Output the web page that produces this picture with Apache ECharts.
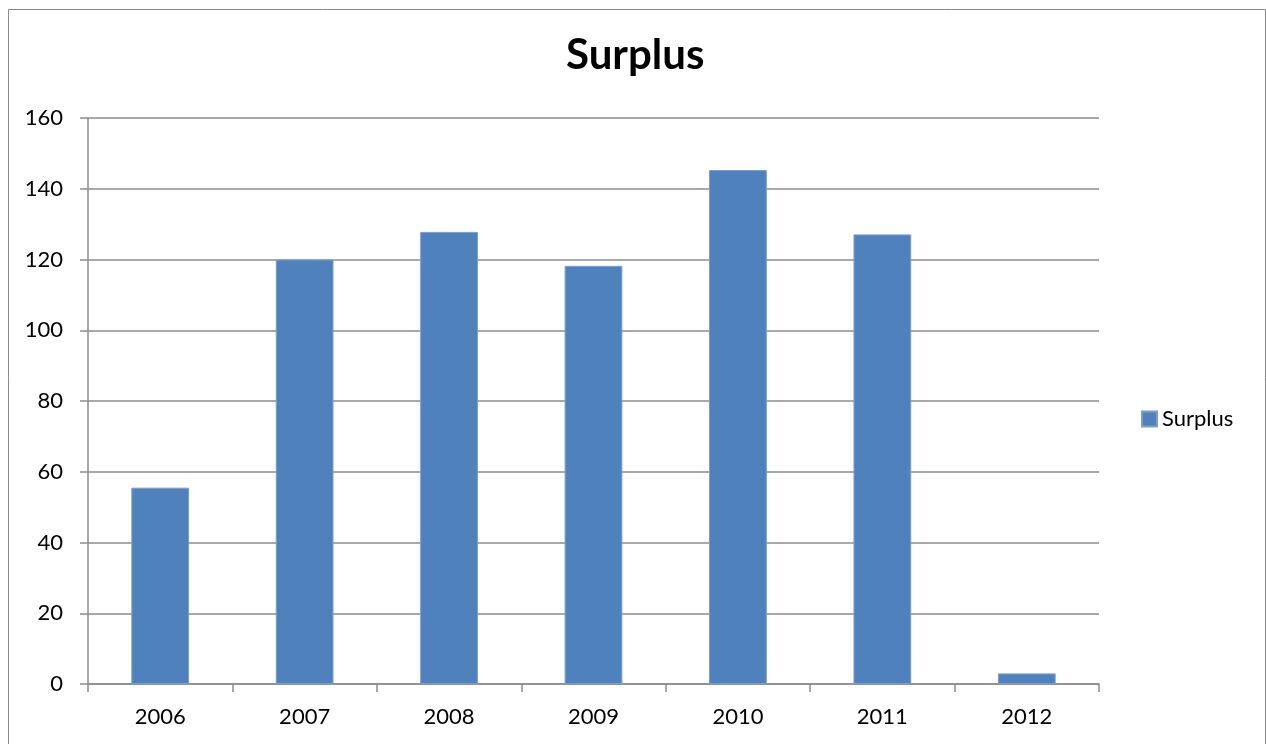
<!DOCTYPE html>
<html>
<head>
<meta charset="utf-8">
<title>Surplus</title>
<script src="https://cdn.jsdelivr.net/npm/echarts@6/dist/echarts.min.js"></script>
<style>
  html, body { margin: 0; padding: 0; background: #fff; }
  #chart { width: 1266px; height: 744px; }
</style>
</head>
<body>
<div id="chart"></div>
<script>
// data
var years = ['2006', '2007', '2008', '2009', '2010', '2011', '2012']
var surplus = [55.5, 120, 127.8, 118.2, 145.3, 127.1, 3]

var chart = echarts.init(document.getElementById('chart'), null, { renderer: 'canvas' })

var font = 'Lato, "Open Sans", sans-serif'
var lineGray = '#8c8c8c'

var option = {
  animation: false,
  backgroundColor: '#fff',
  graphic: [{
    type: 'rect',
    shape: { x: 8.5, y: 9.5, width: 1257, height: 740 },
    style: { fill: 'none', stroke: '#8a8a8a', lineWidth: 1 },
    silent: true
  }],
  title: {
    text: 'Surplus',
    left: 566,
    top: 34,
    padding: 0,
    textStyle: { fontFamily: font, fontSize: 42, fontWeight: 'bold', color: '#000' }
  },
  legend: {
    data: ['Surplus'],
    orient: 'vertical',
    left: 1141,
    top: 408,
    padding: 0,
    itemWidth: 15,
    itemHeight: 15,
    icon: 'rect',
    textStyle: { fontFamily: font, fontSize: 22, color: '#000', padding: [0, 0, 0, 0] }
  },
  grid: { left: 88, right: 167, top: 118, bottom: 60, containLabel: false },
  xAxis: {
    type: 'category',
    data: years,
    axisLine: { lineStyle: { color: lineGray, width: 1.5 } },
    axisTick: { show: true, alignWithLabel: false, length: 8, lineStyle: { color: lineGray, width: 1.5 } },
    axisLabel: { fontFamily: font, fontSize: 22, color: '#000', margin: 22 }
  },
  yAxis: {
    type: 'value',
    min: 0,
    max: 160,
    interval: 20,
    axisLine: { show: true, lineStyle: { color: lineGray, width: 1.5 } },
    axisTick: { show: true, length: 8, lineStyle: { color: lineGray, width: 1.5 } },
    axisLabel: { fontFamily: font, fontSize: 22, color: '#000', margin: 25 },
    splitLine: { show: true, lineStyle: { color: lineGray, width: 1.5 } }
  },
  series: [{
    name: 'Surplus',
    type: 'bar',
    data: surplus,
    barCategoryGap: '60%',
    itemStyle: { color: '#4f81bd', borderColor: '#7a9fcd', borderWidth: 1 }
  }]
}

chart.setOption(option)
</script>
</body>
</html>
